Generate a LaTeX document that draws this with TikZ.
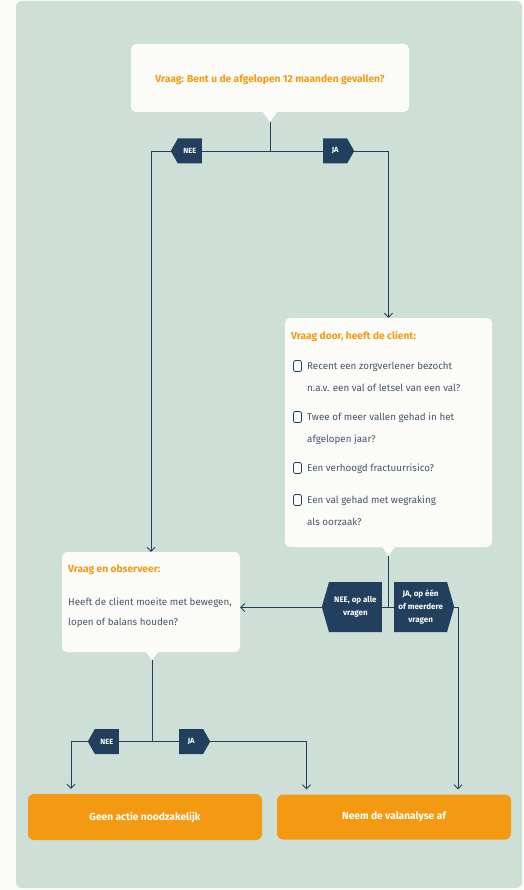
\documentclass[tikz,border=0pt]{standalone}
\usepackage{fontspec}
\setmainfont{Fira Sans}
\usetikzlibrary{arrows.meta,shapes.symbols}
\definecolor{papier}{HTML}{FAFBF7}
\definecolor{paneel}{HTML}{CEDFD7}
\definecolor{wit}{HTML}{FBFCF8}
\definecolor{oranje}{HTML}{F39A12}
\definecolor{marine}{HTML}{223F5E}
\definecolor{tekst}{HTML}{46536A}
\tikzset{
  vraagbox/.style={fill=wit, rounded corners=5pt, inner sep=0pt},
  titel/.style={text=oranje, font=\bfseries\fontsize{10.2}{12}\selectfont, inner sep=0pt},
  tekstregel/.style={text=tekst, font=\fontsize{9.8}{21.5}\selectfont, anchor=north west, align=left, inner sep=0pt},
  vinkje/.style={draw=marine, line width=0.8pt, rounded corners=2pt, minimum width=8pt, minimum height=11pt, inner sep=0pt},
  tagleft/.style={signal, signal to=west, signal pointer angle=121, fill=marine, text=white, font=\bfseries\fontsize{7.5}{11}\selectfont, align=center, inner sep=0pt, minimum height=25pt, minimum width=31pt},
  tagright/.style={tagleft, signal to=east},
  groottag/.style={minimum height=50, minimum width=60, signal pointer angle=148, font=\bfseries\fontsize{8}{13}\selectfont},
  actbox/.style={fill=oranje, rounded corners=6pt, text=white, font=\bfseries\fontsize{10.2}{12}\selectfont},
  lijn/.style={draw=marine, line width=0.9pt}
}
\begin{document}
\begin{tikzpicture}[x=1pt, y=-1pt, >={Straight Barb[length=4pt, width=8pt]}]
  \useasboundingbox (0,0) rectangle (523,890);
  \fill [papier] (0,0) rectangle (523,890);
  \fill [paneel, rounded corners=6pt] (16,1) rectangle (522,888);

  \node [vraagbox, minimum width=278, minimum height=68] (q1) at (270,78) {};
  \node [titel] (q1titel) at (270,80) {Vraag: Bent u de afgelopen 12 maanden gevallen?};
  \fill [wit] ([xshift=-7pt]q1.south) -- ++(7,10) coordinate (q1punt) -- ([xshift=7pt]q1.south) -- cycle;

  \node [vraagbox, minimum width=207, minimum height=229] (door) at (388.5,432.5) {};
  \fill [wit] ([xshift=-6pt]door.south) -- ++(6,9) coordinate (doorpunt) -- ([xshift=6pt]door.south) -- cycle;
  \node [titel, anchor=west] (doortitel) at (291,336) {Vraag door, heeft de client:};
  \node [vinkje] (v1) at (297.5,366) {};
  \node [tekstregel] (i1) at (307,362) {Recent een zorgverlener bezocht\\n.a.v. een val of letsel van een val?};
  \node [vinkje] (v2) at (297.5,417) {};
  \node [tekstregel] (i2) at (307,413) {Twee of meer vallen gehad in het\\afgelopen jaar?};
  \node [vinkje] (v3) at (297.5,468) {};
  \node [tekstregel] (i3) at (307,464) {Een verhoogd fractuurrisico?};
  \node [vinkje] (v4) at (297.5,500) {};
  \node [tekstregel] (i4) at (307,496) {Een val gehad met wegraking\\als oorzaak?};

  \node [vraagbox, minimum width=178, minimum height=100] (obs) at (151,602) {};
  \fill [wit] ([xshift=-5pt]obs.south) -- ++(6,8) coordinate (obspunt) -- ([xshift=7pt]obs.south) -- cycle;
  \node [titel, anchor=west] (obstitel) at (68,570) {Vraag en observeer:};
  \node [tekstregel, font=\fontsize{9.8}{20}\selectfont] (obstekst) at (68,598) {Heeft de client moeite met bewegen,\\lopen of balans houden?};

  \node [actbox, minimum width=234, minimum height=46] (geen) at (145,817) {Geen actie noodzakelijk};
  \node [actbox, minimum width=234, minimum height=45] (neem) at (394,817) {Neem de valanalyse af};

  \coordinate (j1) at (270,151);
  \coordinate (r2) at (458,607.5);
  \coordinate (l3) at (71,741.5);
  \coordinate (r3) at (306.5,741.5);
  \coordinate (j2) at (doorpunt |- r2);
  \coordinate (j3) at (obspunt |- l3);

  \draw [lijn] (q1punt) -- (j1);
  \draw [lijn, ->] (j1) -| (obs.north);
  \draw [lijn, ->] (j1) -| (door.north);
  \draw [lijn] (doorpunt) -- (j2);
  \draw [lijn, ->] (j2) -- (j2 -| obs.east);
  \draw [lijn, ->, shorten >=5pt] (j2) -- (r2) -- (r2 |- neem.north);
  \draw [lijn] (obspunt) -- (j3);
  \draw [lijn, ->, shorten >=5pt] (j3) -- (l3) -- (l3 |- geen.north);
  \draw [lijn, ->, shorten >=5pt] (j3) -- (r3) -- (r3 |- neem.north);

  \node [tagleft, anchor=east] (nee1) at (202,151) {NEE};
  \node [tagright, anchor=west] (ja1) at (323,151) {JA};
  \node [tagleft, groottag, anchor=east] (nee2) at (382,607) {NEE, op alle\\vragen};
  \node [tagright, groottag, anchor=west] (ja2) at (394,607) {JA, op één\\of meerdere\\vragen};
  \node [tagleft, anchor=east] (nee3) at (119,741.5) {NEE};
  \node [tagright, anchor=west] (ja3) at (179,741.5) {JA};
\end{tikzpicture}
\end{document}
